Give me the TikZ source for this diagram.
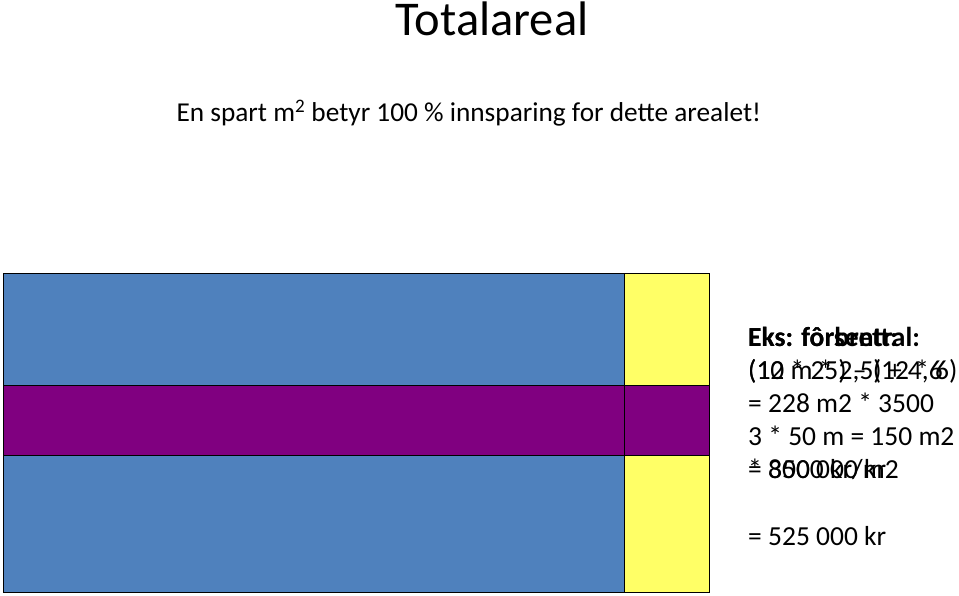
\documentclass[tikz,border=0pt]{standalone}
\usepackage{fontspec}
\setmainfont{Carlito}
\usepackage{tikz}
\definecolor{areablue}{RGB}{79,129,189}
\definecolor{bandpurple}{RGB}{128,0,128}
\definecolor{edgeyellow}{RGB}{255,255,102}

\begin{document}
\begin{tikzpicture}[x=1pt,y=-1pt,
  field/.style={draw=black,line width=0.8pt},
  calc/.style={anchor=north west,align=left,inner sep=0pt,font=\fontsize{27.5}{33.1}\selectfont}]
\useasboundingbox (0,0) rectangle (959,595);
% titles
\node[font=\fontsize{48.5}{52}\selectfont] (title) at (492,19) {Totalareal};
\node[font=\fontsize{27.3}{30}\selectfont,anchor=west] (sub) at (173,113) {En spart m\textsuperscript{2} betyr 100 \% innsparing for dette arealet!};
% floor plan
\fill[areablue] (3,273) rectangle (624,592);
\fill[edgeyellow] (624,273) rectangle (709,592);
\fill[bandpurple] (3,385) rectangle (709,455);
\draw[field] (3,273) rectangle (709,592);
\draw[field] (624,273) -- (624,592);
\draw[field] (3,385) -- (709,385);
\draw[field] (3,455) -- (709,455);
% example text, two blocks on top of each other
\node[calc] (central) at (748,327) {\textbf{Eks: fôrsentral:}\\(12 * 25) – (12 * 6)\\= 228 m2 * 3500\\ \\= 800 000 kr};
\node[calc] (table) at (748,327) {\textbf{Eks: fôrbrett:}\\(10 m * 2,5) + 4,6\\ \\3 * 50 m = 150 m2\\* 3500 kr/m2\\ \\= 525 000 kr};
\end{tikzpicture}
\end{document}
